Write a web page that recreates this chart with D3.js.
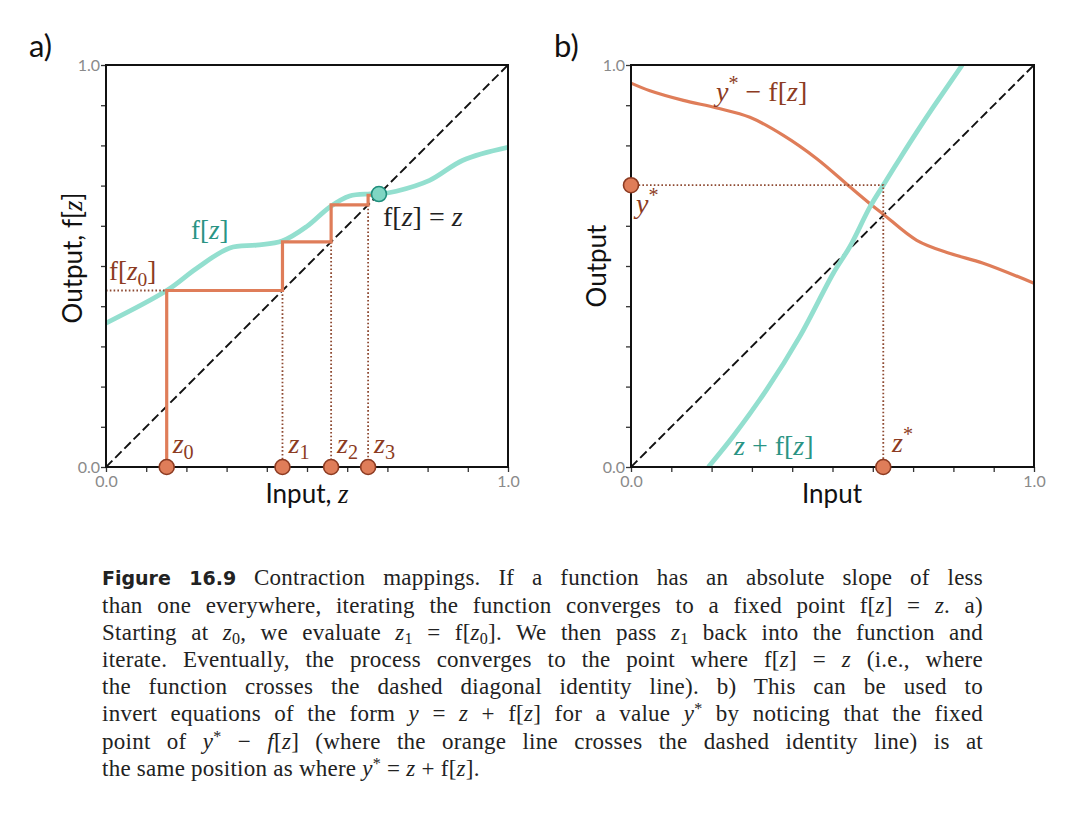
<!DOCTYPE html>
<html>
<head>
<meta charset="utf-8">
<script src="https://cdn.jsdelivr.net/npm/d3@7"></script>
<style>
  html, body { margin: 0; padding: 0; background: #fff; }
  body { width: 1092px; height: 814px; position: relative; overflow: hidden; }
  svg { position: absolute; left: 0; top: 0; }
  #caption { position: absolute; left: 102px; top: 564px; width: 881px;
    font-family: "Liberation Serif", "DejaVu Serif", serif; font-size: 23px; letter-spacing: 0.25px; line-height: 27.1px; color: #222; }
  #caption .ln { display: block; text-align: justify; text-align-last: justify; white-space: nowrap; }
  #caption .ln.last { text-align-last: left; }
  #caption b { font-family: "DejaVu Sans", "Liberation Sans", sans-serif; font-weight: bold; font-size: 19px; letter-spacing: 0; }
  #caption sub { font-size: 70%; vertical-align: -0.25em; line-height: 0; }
  #caption sup { font-size: 70%; vertical-align: 0.45em; line-height: 0; }
</style>
</head>
<body>
<svg id="chart" width="1092" height="814"></svg>
<div id="caption"></div>
<script>
// ---------------- data ----------------
// Panel a: f[z]
const fZ  = [0.000, 0.151, 0.225, 0.308, 0.374, 0.438, 0.499, 0.557, 0.606, 0.652, 0.679, 0.722, 0.805, 0.888, 1.000];
const fY  = [0.358, 0.439, 0.494, 0.545, 0.552, 0.562, 0.598, 0.647, 0.674, 0.679, 0.679, 0.686, 0.713, 0.763, 0.795];
// cobweb iterates z0..z3 and the value of f at each
const iterZ  = [0.151, 0.439, 0.560, 0.652];
const iterFZ = [0.439, 0.560, 0.652, 0.676];
const fixedPoint = [0.679, 0.679];
const iterLabels = ["0", "1", "2", "3"];

// Panel b: y* - f[z] (orange) and z + f[z] (teal)
const gZ = [0.000, 0.047, 0.130, 0.213, 0.295, 0.378, 0.461, 0.543, 0.593, 0.626, 0.709, 0.792, 0.874, 1.000];
const gY = [0.955, 0.936, 0.912, 0.893, 0.870, 0.825, 0.767, 0.697, 0.655, 0.629, 0.564, 0.531, 0.507, 0.457];
const hZ = [0.192, 0.254, 0.337, 0.419, 0.502, 0.543, 0.593, 0.626, 0.667, 0.709, 0.750, 0.822];
const hY = [0.000, 0.077, 0.193, 0.325, 0.482, 0.548, 0.647, 0.701, 0.767, 0.833, 0.895, 1.000];
const yStar = 0.701;
const zStar = 0.626;

const tickValues = [0, 0.1, 0.2, 0.3, 0.4, 0.5, 0.6, 0.7, 0.8, 0.9, 1.0];
const tickLabels = ["0.0", "1.0"];

// ---------------- styles ----------------
const TEAL = "#93dfcf", TEAL_DARK = "#1f8e7c", TEAL_TEXT = "#2a9484";
const ORANGE = "#df7d59", BROWN = "#8c3b22", BROWN_DOT = "#8e4a32";
const SANS = "Lato, 'Open Sans', 'DejaVu Sans', sans-serif";
const SERIF = "'Liberation Serif', 'DejaVu Serif', serif";

const svg = d3.select("#chart");

function makePanel(x0, x1, y0, y1) {
  const x = d3.scaleLinear().domain([0, 1]).range([x0, x1]);
  const y = d3.scaleLinear().domain([0, 1]).range([y1, y0]);
  const g = svg.append("g");
  const clipId = "clip" + Math.round(x0);
  svg.append("clipPath").attr("id", clipId).append("rect")
    .attr("x", x0).attr("y", y0).attr("width", x1 - x0).attr("height", y1 - y0);
  const plot = g.append("g").attr("clip-path", `url(#${clipId})`);
  const fmt = d => (d === 0 ? tickLabels[0] : d === 1 ? tickLabels[1] : "");
  const ax = g.append("g").attr("transform", `translate(0,${y1})`)
    .call(d3.axisBottom(x).tickValues(tickValues).tickSize(5).tickPadding(4).tickFormat(fmt));
  const ay = g.append("g").attr("transform", `translate(${x0},0)`)
    .call(d3.axisLeft(y).tickValues(tickValues).tickSize(5).tickPadding(1).tickFormat(fmt));
  [ax, ay].forEach(a => {
    a.select(".domain").remove();
    a.selectAll(".tick line").attr("stroke", "#333").attr("stroke-width", 1.3);
    a.selectAll(".tick text").attr("fill", "#8a8a8a").style("font-family", SANS).style("font-size", "16px");
  });
  ay.selectAll(".tick text").attr("dy", "0.36em");
  return { x, y, g, plot, x0, x1, y0, y1 };
}

function frame(p) {
  p.g.append("rect").attr("x", p.x0).attr("y", p.y0).attr("width", p.x1 - p.x0).attr("height", p.y1 - p.y0)
    .attr("fill", "none").attr("stroke", "#111").attr("stroke-width", 2);
}

function diag(p) {
  p.plot.append("line").attr("x1", p.x(0)).attr("y1", p.y(0)).attr("x2", p.x(1)).attr("y2", p.y(1))
    .attr("stroke", "#111").attr("stroke-width", 1.9).attr("stroke-dasharray", "9,4");
}

function dotted(p, pts) {
  p.plot.append("path").attr("d", d3.line().x(d => p.x(d[0])).y(d => p.y(d[1]))(pts))
    .attr("fill", "none").attr("stroke", BROWN_DOT).attr("stroke-width", 1.8).attr("stroke-dasharray", "1.6,2.2");
}

function marker(p, xv, yv, fill, stroke) {
  p.g.append("circle").attr("cx", p.x(xv)).attr("cy", p.y(yv)).attr("r", 7.5)
    .attr("fill", fill).attr("stroke", stroke).attr("stroke-width", 1.6);
}

function mathText(sel, x, y, parts, color, size, anchor) {
  const t = sel.append("text").attr("x", x).attr("y", y).attr("fill", color)
    .style("font-family", SERIF).style("font-size", size + "px").attr("text-anchor", anchor || "start");
  parts.forEach(([s, st]) => {
    const ts = t.append("tspan").text(s);
    if (st === "it") ts.style("font-style", "italic");
    if (st === "sub") ts.style("font-size", (size * 0.72) + "px").attr("dy", size * 0.22);
    if (st === "subend") ts.attr("dy", -size * 0.22);
    if (st === "sup") ts.style("font-size", (size * 0.72) + "px").attr("dy", -size * 0.38);
    if (st === "supend") ts.attr("dy", size * 0.38);
  });
  return t;
}

const line = p => d3.line().curve(d3.curveCatmullRom.alpha(0.5)).x(d => p.x(d[0])).y(d => p.y(d[1]));

// ================= Panel a =================
const A = makePanel(106, 508, 65, 467);
diag(A);
A.plot.append("path").attr("d", line(A)(fZ.map((v, i) => [v, fY[i]])))
  .attr("fill", "none").attr("stroke", TEAL).attr("stroke-width", 4.8);

dotted(A, [[0, iterFZ[0]], [iterZ[0], iterFZ[0]]]);
for (let i = 1; i < iterZ.length; i++) dotted(A, [[iterZ[i], iterZ[i]], [iterZ[i], 0]]);

const web = [[iterZ[0], 0]];
iterZ.forEach((z, i) => {
  web.push([z, iterFZ[i]]);
  if (i < iterZ.length - 1) web.push([iterZ[i + 1], iterFZ[i]]);
});
web.push([fixedPoint[0] - 0.01, iterFZ[iterFZ.length - 1]]);
A.plot.append("path").attr("d", d3.line().x(d => A.x(d[0])).y(d => A.y(d[1]))(web))
  .attr("fill", "none").attr("stroke", ORANGE).attr("stroke-width", 3.2).attr("stroke-linejoin", "miter");

frame(A);
iterZ.forEach(z => marker(A, z, 0, ORANGE, BROWN));
marker(A, fixedPoint[0], fixedPoint[1], "#7fd6c3", TEAL_DARK);

iterZ.forEach((z, i) => {
  mathText(A.g, A.x(z) + 6, 453, [["z", "it"], [iterLabels[i], "sub"]], BROWN, 28);
});
mathText(A.g, 109, 280, [["f[", "rm"], ["z", "it"], ["0", "sub"], ["]", "subend"]], BROWN, 27);
mathText(A.g, 191, 239, [["f[", "rm"], ["z", "it"], ["]", "rm"]], TEAL_TEXT, 27);
mathText(A.g, 383, 226, [["f[", "rm"], ["z", "it"], ["] = ", "rm"], ["z", "it"]], "#222", 28);

const xlabA = A.g.append("text").attr("x", 307).attr("y", 503).attr("text-anchor", "middle")
  .style("font-family", SANS).style("font-size", "26px").attr("fill", "#111");
xlabA.append("tspan").text("Input, ");
xlabA.append("tspan").text("z").style("font-family", SERIF).style("font-style", "italic").style("font-size", "27px");
const ylabA = A.g.append("text").attr("transform", "translate(82,258) rotate(-90)").attr("text-anchor", "middle")
  .style("font-family", SANS).style("font-size", "26px").attr("fill", "#111");
ylabA.append("tspan").text("Output, f[");
ylabA.append("tspan").text("z").style("font-family", SERIF).style("font-style", "italic").style("font-size", "27px");
ylabA.append("tspan").text("]");

// ================= Panel b =================
const B = makePanel(631, 1034, 65, 467);
diag(B);
B.plot.append("path").attr("d", line(B)(gZ.map((v, i) => [v, gY[i]])))
  .attr("fill", "none").attr("stroke", ORANGE).attr("stroke-width", 3.2);
B.plot.append("path").attr("d", line(B)(hZ.map((v, i) => [v, hY[i]])))
  .attr("fill", "none").attr("stroke", TEAL).attr("stroke-width", 4.8);
dotted(B, [[0, yStar], [zStar, yStar], [zStar, 0]]);
frame(B);
marker(B, 0, yStar, ORANGE, BROWN);
marker(B, zStar, 0, ORANGE, BROWN);

mathText(B.g, 716, 101, [["y", "it"], ["*", "sup"], [" \u2212 f[", "supend"], ["z", "it"], ["]", "rm"]], BROWN, 28);
mathText(B.g, 636, 213, [["y", "it"], ["*", "sup"]], BROWN, 28);
mathText(B.g, 734, 455, [["z", "it"], [" + f[", "rm"], ["z", "it"], ["]", "rm"]], TEAL_TEXT, 28);
mathText(B.g, 892, 452, [["z", "it"], ["*", "sup"]], BROWN, 28);

B.g.append("text").attr("x", 832).attr("y", 503).attr("text-anchor", "middle")
  .style("font-family", SANS).style("font-size", "26px").attr("fill", "#111").text("Input");
B.g.append("text").attr("transform", "translate(606,266) rotate(-90)").attr("text-anchor", "middle")
  .style("font-family", SANS).style("font-size", "26px").attr("fill", "#111").text("Output");

svg.append("text").attr("x", 29).attr("y", 57).style("font-family", SANS).style("font-size", "31px").attr("fill", "#111").text("a)");
svg.append("text").attr("x", 554).attr("y", 57).style("font-family", SANS).style("font-size", "31px").attr("fill", "#111").text("b)");

// ================= Caption =================
const captionLines = [
  "<b>Figure 16.9</b> Contraction mappings. If a function has an absolute slope of less",
  "than one everywhere, iterating the function converges to a fixed point f[<i>z</i>] = <i>z</i>. a)",
  "Starting at <i>z</i><sub>0</sub>, we evaluate <i>z</i><sub>1</sub> = f[<i>z</i><sub>0</sub>]. We then pass <i>z</i><sub>1</sub> back into the function and",
  "iterate. Eventually, the process converges to the point where f[<i>z</i>] = <i>z</i> (i.e., where",
  "the function crosses the dashed diagonal identity line). b) This can be used to",
  "invert equations of the form <i>y</i> = <i>z</i> + f[<i>z</i>] for a value <i>y</i><sup>*</sup> by noticing that the fixed",
  "point of <i>y</i><sup>*</sup> \u2212 <i>f</i>[<i>z</i>] (where the orange line crosses the dashed identity line) is at",
  "the same position as where <i>y</i><sup>*</sup> = <i>z</i> + f[<i>z</i>]."
];
d3.select("#caption").selectAll("span.ln").data(captionLines).join("span")
  .attr("class", (d, i) => "ln" + (i === captionLines.length - 1 ? " last" : ""))
  .html(d => d);
</script>
</body>
</html>
